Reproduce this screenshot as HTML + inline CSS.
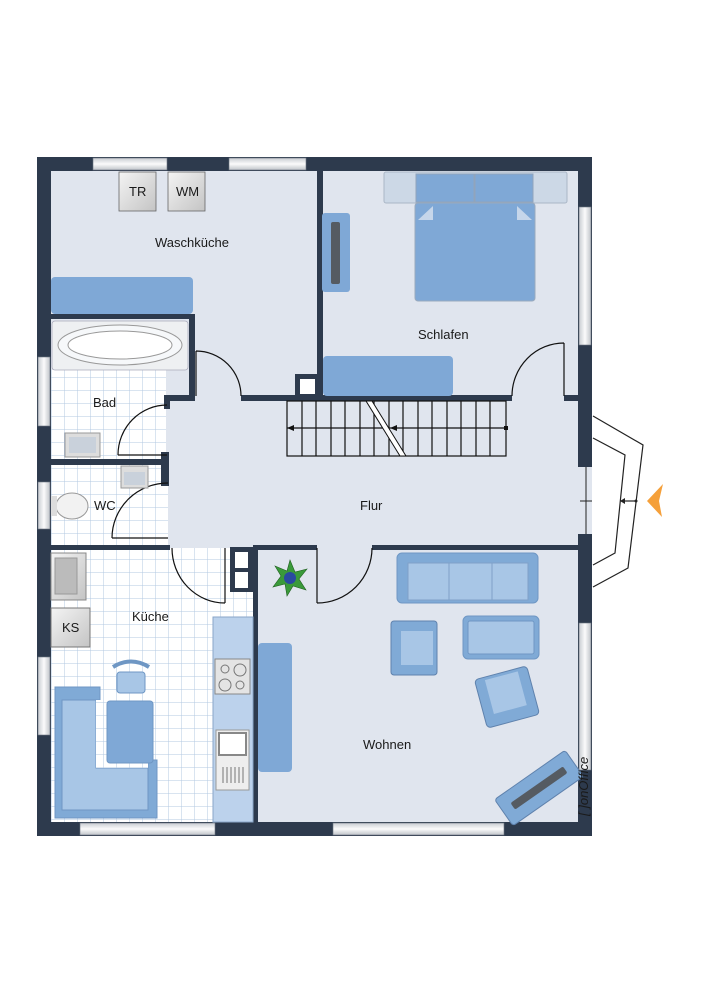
<!DOCTYPE html>
<html><head><meta charset="utf-8"><style>
html,body{margin:0;padding:0;background:#fff;width:706px;height:1000px;overflow:hidden}
svg{display:block}
text{font-family:"Liberation Sans",sans-serif;font-size:13px;fill:#1a1a1a}
</style></head><body>
<svg width="706" height="1000" viewBox="0 0 706 1000" xmlns="http://www.w3.org/2000/svg">
<defs>
<pattern id="tile" x="51" y="0" width="13" height="13" patternUnits="userSpaceOnUse">
<rect width="13" height="13" fill="#fff"/><path d="M0 0H13M0 0V13" stroke="#b3c8e2" stroke-width="1"/>
</pattern>
<linearGradient id="win" x1="0" y1="0" x2="0" y2="1"><stop offset="0" stop-color="#c8ccd2"/><stop offset=".5" stop-color="#fbfbfb"/><stop offset="1" stop-color="#c0c4ca"/></linearGradient>
<linearGradient id="winv" x1="0" y1="0" x2="1" y2="0"><stop offset="0" stop-color="#c8ccd2"/><stop offset=".5" stop-color="#fbfbfb"/><stop offset="1" stop-color="#c0c4ca"/></linearGradient>
<linearGradient id="app" x1="0" y1="0" x2="1" y2="1"><stop offset="0" stop-color="#f4f4f4"/><stop offset="1" stop-color="#c4c4c4"/></linearGradient>
</defs>
<rect x="37" y="157" width="555" height="679" fill="#e0e5ee"/>
<rect x="51" y="370" width="115" height="90" fill="url(#tile)"/>
<rect x="51" y="465" width="117" height="81" fill="url(#tile)"/>
<rect x="51" y="550" width="203" height="272" fill="url(#tile)"/>
<rect x="170" y="548" width="60" height="6" fill="url(#tile)"/>
<g fill="#2d3a4d">
<rect x="37" y="157" width="555" height="14"/>
<rect x="37" y="157" width="14" height="679"/>
<rect x="37" y="822" width="555" height="14"/>
<rect x="578" y="157" width="14" height="310"/>
<rect x="578" y="534" width="14" height="302"/>
<rect x="317" y="171" width="6" height="229"/>
<rect x="295" y="374" width="22" height="22"/>
<rect x="241" y="395" width="271" height="6"/>
<rect x="564" y="395" width="14" height="6"/>
<rect x="51" y="314" width="144" height="5"/>
<rect x="189" y="314" width="6" height="86"/>
<rect x="164" y="395" width="31" height="6"/>
<rect x="164" y="395" width="6" height="14"/>
<rect x="51" y="459" width="118" height="6"/>
<rect x="161" y="452" width="8" height="34"/>
<rect x="51" y="545" width="119" height="5"/>
<rect x="230" y="547" width="23" height="45"/>
<rect x="253" y="545" width="64" height="5"/>
<rect x="372" y="545" width="206" height="5"/>
<rect x="253" y="545" width="5" height="277"/>
</g>
<rect x="300" y="379" width="15" height="15" fill="#fff"/>
<rect x="235" y="552" width="13" height="16" fill="#fff"/>
<rect x="235" y="572" width="13" height="16" fill="#fff"/>
<g fill="url(#win)" stroke="#6b7480" stroke-width=".6">
<rect x="93" y="158" width="74" height="12"/><rect x="229" y="158" width="77" height="12"/>
<rect x="80" y="823" width="135" height="12"/><rect x="333" y="823" width="171" height="12"/>
</g>
<g fill="url(#winv)" stroke="#6b7480" stroke-width=".6">
<rect x="38" y="357" width="12" height="69"/><rect x="38" y="482" width="12" height="47"/><rect x="38" y="657" width="12" height="78"/>
<rect x="579" y="207" width="12" height="138"/><rect x="579" y="623" width="12" height="147"/>
</g>
<line x1="586" y1="467" x2="586" y2="534" stroke="#222" stroke-width="1"/>
<line x1="580" y1="501" x2="592" y2="501" stroke="#222"/>
<g fill="none" stroke="#222" stroke-width="1.2">
<polyline points="593,416 643,445 628,568 593,587"/>
<polyline points="593,438 625,455 615,553 593,565"/>
<line x1="621" y1="501" x2="636" y2="501"/>
</g>
<polygon points="620,501 625,498 625,504" fill="#222"/><circle cx="636" cy="501" r="1.5" fill="#222"/>
<polygon points="647,501 663,484 659,501 662,517" fill="#f5a03a"/>
<g fill="none" stroke="#111" stroke-width="1.2">
<path d="M196 351 V396 M196 351 A45 45 0 0 1 241 396"/>
<path d="M564 343 V396 M564 343 A52 53 0 0 0 512 396"/>
<path d="M118 455 H167 M118 455 A49 50 0 0 1 167 405"/>
<path d="M112 538 H168 M112 538 A56 55 0 0 1 168 483"/>
<path d="M225 548 V603 M172 548 A53 55 0 0 0 225 603"/>
<path d="M317 548 V603 M317 603 A55 55 0 0 0 372 548"/>
</g>
<g stroke="#111" stroke-width="1.2" fill="none">
<rect x="287" y="401" width="219" height="55"/>
<line x1="287" y1="428" x2="506" y2="428"/>
<path d="M302 401V456M316 401V456M331 401V456M345 401V456M360 401V456M374 401V456M389 401V456M403 401V456M418 401V456M432 401V456M447 401V456M461 401V456M476 401V456M490 401V456"/>
</g>
<polygon points="366,401 372,401 406,456 400,456" fill="#fff" stroke="#111" stroke-width="1"/>
<polygon points="287,428 294,425 294,431" fill="#111"/><polygon points="390,428 397,425 397,431" fill="#111"/><rect x="504" y="426" width="4" height="4" fill="#111"/>
<rect x="119" y="172" width="37" height="39" fill="url(#app)" stroke="#666" stroke-width=".8"/>
<rect x="168" y="172" width="37" height="39" fill="url(#app)" stroke="#666" stroke-width=".8"/>
<text x="129" y="196" font-size="11">TR</text><text x="176" y="196" font-size="11">WM</text>
<text x="155" y="247">Waschküche</text>
<rect x="51" y="277" width="142" height="37" rx="4" fill="#7fa8d6"/>
<rect x="52" y="321" width="136" height="49" rx="3" fill="#eef0f2" stroke="#aab" stroke-width=".8"/>
<ellipse cx="120" cy="345" rx="62" ry="20" fill="#f6f8fa" stroke="#999"/>
<ellipse cx="120" cy="345" rx="52" ry="14" fill="#fff" stroke="#999"/>
<text x="93" y="407">Bad</text>
<rect x="65" y="433" width="35" height="24" fill="#ddd" stroke="#999"/><rect x="69" y="437" width="27" height="16" fill="#c9d1db"/>
<rect x="121" y="466" width="27" height="22" fill="#ddd" stroke="#999"/><rect x="124" y="472" width="21" height="13" fill="#c9d1db"/>
<ellipse cx="72" cy="506" rx="16" ry="13" fill="#f2f2f2" stroke="#999"/><rect x="51" y="496" width="6" height="20" fill="#ddd"/>
<text x="94" y="510">WC</text>
<rect x="384" y="172" width="183" height="31" rx="2" fill="#ccd8e6" stroke="#aab6c6"/>
<rect x="416" y="174" width="58" height="28" fill="#7fa8d6" stroke="#90a4bc"/><rect x="475" y="174" width="58" height="28" fill="#7fa8d6" stroke="#90a4bc"/>
<rect x="415" y="203" width="120" height="98" rx="3" fill="#7fa8d6" stroke="#9aaabd"/>
<polygon points="418,220 433,206 433,220" fill="#c6d6ea"/><polygon points="532,220 517,206 517,220" fill="#c6d6ea"/>
<rect x="322" y="213" width="28" height="79" rx="3" fill="#7fa8d6"/><rect x="331" y="222" width="9" height="62" rx="2" fill="#555b62"/>
<rect x="323" y="356" width="130" height="40" rx="4" fill="#7fa8d6"/>
<text x="418" y="339">Schlafen</text>
<text x="360" y="510">Flur</text>
<rect x="51" y="553" width="35" height="47" fill="url(#app)" stroke="#888"/><rect x="55" y="558" width="22" height="36" fill="#bbb" stroke="#999"/>
<rect x="51" y="608" width="39" height="39" fill="url(#app)" stroke="#777"/><text x="62" y="632" font-size="11">KS</text>
<text x="132" y="621">Küche</text>
<rect x="213" y="617" width="40" height="205" fill="#bcd2ec" stroke="#8aa6c8"/>
<rect x="215" y="659" width="35" height="35" fill="#e4e4e4" stroke="#888"/>
<circle cx="225" cy="669" r="4" fill="none" stroke="#777"/><circle cx="240" cy="670" r="6" fill="none" stroke="#777"/><circle cx="225" cy="685" r="6" fill="none" stroke="#777"/><circle cx="240" cy="685" r="4" fill="none" stroke="#777"/>
<rect x="216" y="730" width="33" height="60" fill="#eee" stroke="#999"/><rect x="219" y="733" width="27" height="22" fill="#fff" stroke="#888" stroke-width="2"/>
<path d="M223 767V783M227 767V783M231 767V783M235 767V783M239 767V783M243 767V783" stroke="#777"/>
<path d="M55 687 H100 V700 H62 V810 H148 V760 H157 V818 H55 Z" fill="#80aad6" stroke="#6f97c4"/>
<path d="M62 700 V810 H148 V768 H96 V700 Z" fill="#a8c6e6" stroke="#6f97c4"/>
<rect x="96" y="700" width="52" height="68" fill="url(#tile)"/>
<rect x="107" y="701" width="46" height="62" rx="3" fill="#7fa8d6" stroke="#6f97c4"/>
<rect x="117" y="672" width="28" height="21" rx="3" fill="#a8c6e6" stroke="#6f97c4"/>
<path d="M113 667 Q131 656 149 667" fill="none" stroke="#6f97c4" stroke-width="4"/>
<rect x="258" y="643" width="34" height="129" rx="4" fill="#7fa8d6"/>
<g transform="translate(290,578)"><polygon points="0,-18 5,-6 17,-9 9,1 16,12 3,8 -3,18 -5,6 -17,9 -9,-2 -15,-12 -3,-7" fill="#3a9a3a" stroke="#1f5f1f" stroke-width=".6"/><circle r="6" fill="#2a4aa0"/></g>
<rect x="397" y="553" width="141" height="50" rx="5" fill="#80aad6" stroke="#6f97c4"/>
<rect x="408" y="563" width="120" height="37" fill="#a8c6e6" stroke="#7fa0c8"/>
<path d="M449 563V600M492 563V600" stroke="#7fa0c8"/>
<rect x="391" y="621" width="46" height="54" rx="3" fill="#80aad6" stroke="#5f82ad"/><rect x="401" y="631" width="32" height="34" fill="#a8c6e6"/>
<rect x="463" y="616" width="76" height="43" rx="5" fill="#80aad6" stroke="#6f97c4"/><rect x="468" y="621" width="66" height="33" rx="2" fill="#a8c6e6" stroke="#6f97c4"/>
<g transform="translate(507,697) rotate(-15)"><rect x="-27" y="-25" width="54" height="50" rx="4" fill="#80aad6" stroke="#5f82ad"/><rect x="-17" y="-22" width="34" height="35" fill="#a8c6e6"/></g>
<g transform="translate(539,788) rotate(-35)"><rect x="-43" y="-16" width="86" height="32" rx="3" fill="#80aad6" stroke="#5f82ad"/><rect x="-32" y="-4" width="64" height="8" rx="2" fill="#555b62"/></g>
<text x="363" y="749">Wohnen</text>
<text transform="translate(588,816) rotate(-90)" font-size="6" font-style="italic">[ ]onOffice</text>
</svg>
</body></html>
